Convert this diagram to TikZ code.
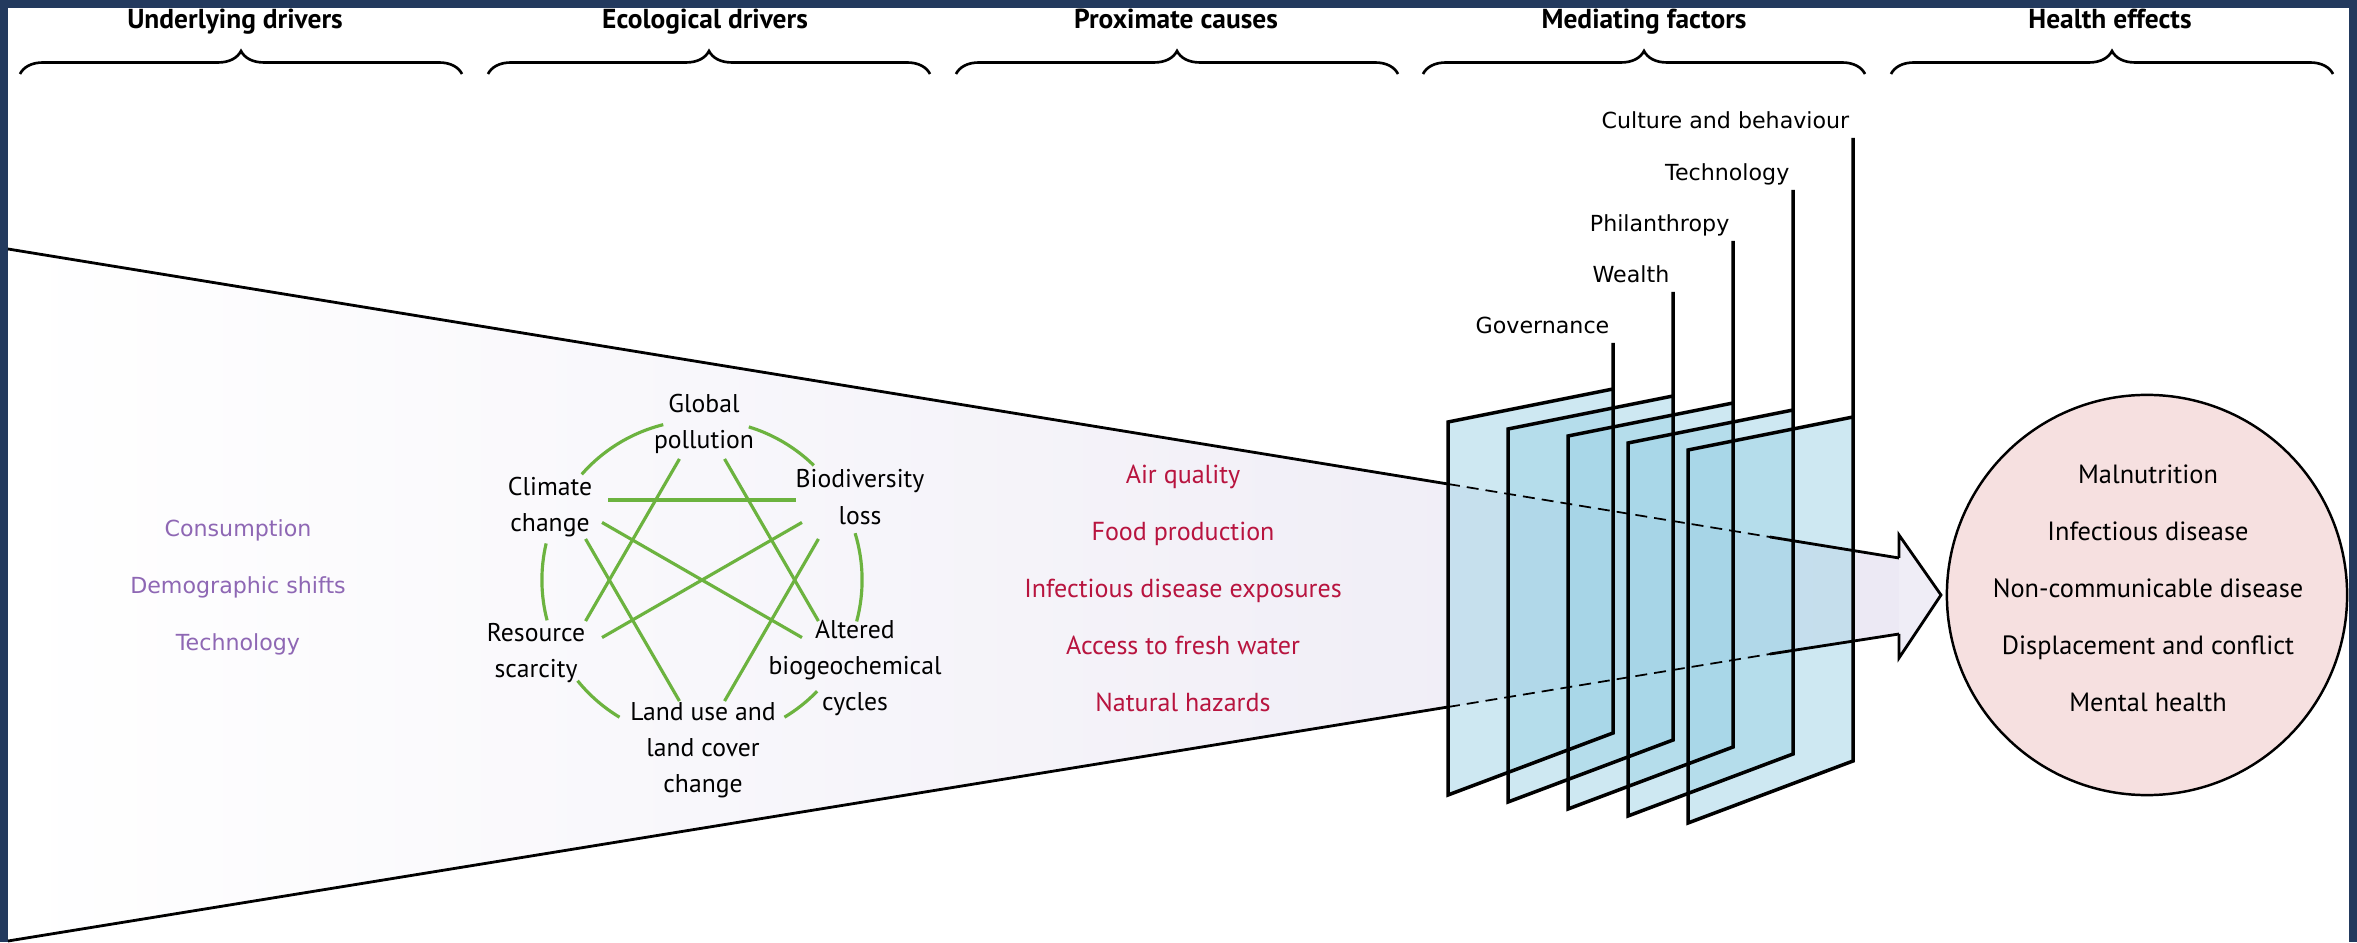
\documentclass[tikz,border=0pt]{standalone}
\usepackage{fontspec}
\setmainfont{PT Sans}
\newfontfamily\lucidafont{DejaVu Sans}
\usepackage{tikz}
\usetikzlibrary{positioning}
\usetikzlibrary{decorations.pathreplacing}
\definecolor{framenavy}{HTML}{233A5E}
\definecolor{ecogreen}{HTML}{6CB33F}
\definecolor{undpurple}{HTML}{8E67B4}
\definecolor{proxred}{HTML}{B8143F}
\definecolor{effpink}{HTML}{F6E0E0}
\definecolor{wedgelav}{HTML}{ECE9F4}
\definecolor{headlav}{HTML}{EFEDF6}
\definecolor{panelblue}{HTML}{9ED3E6}
\tikzset{
    colhead/.style={font=\bfseries\fontsize{7.8}{9}\selectfont, anchor=base, inner sep=0pt},
    colbrace/.style={decorate, decoration={brace, amplitude=0.23cm}, line width=0.75pt},
    undlabel/.style={font=\lucidafont\fontsize{6.3}{8}\selectfont, text=undpurple, text height=1.6mm, text depth=0.4mm, inner sep=0pt},
    ecolabel/.style={font=\fontsize{7.3}{10.3}\selectfont, align=center, inner sep=0pt},
    ecolink/.style={draw=ecogreen, line width=0.9pt},
    proxlabel/.style={font=\fontsize{7.4}{9}\selectfont, text=proxred, text height=1.8mm, text depth=0.5mm, inner sep=0pt},
    medlabel/.style={font=\lucidafont\fontsize{6.3}{8}\selectfont, anchor=base east, inner sep=0pt},
    medpanel/.style={fill=panelblue, fill opacity=0.5},
    medline/.style={line width=1pt, line join=miter},
    efflabel/.style={font=\fontsize{7.5}{9}\selectfont, text height=1.8mm, text depth=0.5mm, inner sep=0pt},
    wedgeline/.style={line width=0.8pt},
    wedgedash/.style={line width=0.5pt, dash pattern=on 3.4pt off 2pt}
}
\begin{document}
\begin{tikzpicture}[x=0.01cm, y=0.01cm, node distance=0.57cm, on grid]
    \useasboundingbox (0,0) rectangle (2357,942);
    \fill[white] (0,0) rectangle (2357,942);
    \fill[framenavy] (0,0) rectangle (8,942);
    \fill[framenavy] (0,934) rectangle (2357,942);
    \fill[framenavy] (2349,0) rectangle (2357,942);

    \node[colhead] (head und) at (235,913) {Underlying drivers};
    \node[colhead] (head eco) at (705,913) {Ecological drivers};
    \node[colhead] (head prox) at (1176,913) {Proximate causes};
    \node[colhead] (head med) at (1644,913) {Mediating factors};
    \node[colhead] (head eff) at (2110,913) {Health effects};
    \draw[colbrace] (20,868) -- (462,868);
    \draw[colbrace] (488,868) -- (930,868);
    \draw[colbrace] (956,868) -- (1398,868);
    \draw[colbrace] (1423,868) -- (1865,868);
    \draw[colbrace] (1891,868) -- (2333,868);

    \coordinate (wedge tl) at (8,693);
    \coordinate (wedge bl) at (8,1);
    \coordinate (wedge tp) at (1448,458);
    \coordinate (wedge bp) at (1448,235);
    \coordinate (wedge td) at (1770,405);
    \coordinate (wedge bd) at (1770,288);
    \coordinate (wedge tr) at (1899,384);
    \coordinate (wedge br) at (1899,308);
    \coordinate (arrow top) at (1899,407);
    \coordinate (arrow tip) at (1941,347);
    \coordinate (arrow bot) at (1899,284);
    \shade[left color=white, right color=wedgelav] (wedge tl) -- (wedge tr) -- (wedge br) -- (wedge bl) -- cycle;
    \filldraw[fill=headlav, wedgeline, line join=miter] (wedge tr) -- (arrow top) -- (arrow tip) -- (arrow bot) -- (wedge br);
    \draw[wedgeline] (wedge tl) -- (wedge tp);
    \draw[wedgeline] (wedge bl) -- (wedge bp);

    \fill[medpanel] (1448,147) -- (1448,520) -- (1613,553) -- (1613,209) -- cycle;
    \fill[medpanel] (1508,140) -- (1508,513) -- (1673,546) -- (1673,202) -- cycle;
    \fill[medpanel] (1568,133) -- (1568,506) -- (1733,539) -- (1733,195) -- cycle;
    \fill[medpanel] (1628,126) -- (1628,499) -- (1793,532) -- (1793,188) -- cycle;
    \fill[medpanel] (1688,119) -- (1688,492) -- (1853,525) -- (1853,181) -- cycle;
    \draw[medline] (1613,599) -- (1613,209) -- (1448,147) -- (1448,520) -- (1613,553);
    \draw[medline] (1673,650) -- (1673,202) -- (1508,140) -- (1508,513) -- (1673,546);
    \draw[medline] (1733,701) -- (1733,195) -- (1568,133) -- (1568,506) -- (1733,539);
    \draw[medline] (1793,752) -- (1793,188) -- (1628,126) -- (1628,499) -- (1793,532);
    \draw[medline] (1853,804) -- (1853,181) -- (1688,119) -- (1688,492) -- (1853,525);
    \node[medlabel] (med gov) at (1610,608) {Governance};
    \node[medlabel] (med wealth) at (1670,659) {Wealth};
    \node[medlabel] (med phil) at (1730,710) {Philanthropy};
    \node[medlabel] (med tech) at (1790,761) {Technology};
    \node[medlabel] (med culture) at (1850,813) {Culture and behaviour};

    \draw[wedgedash] (wedge tp) -- (wedge td);
    \draw[wedgedash] (wedge bp) -- (wedge bd);
    \draw[wedgeline] (wedge td) -- (wedge tr);
    \draw[wedgeline] (wedge bd) -- (wedge br);

    \node[undlabel] (und cons) at (238,412) {Consumption};
    \node[undlabel, below=of und cons] (und demo) {Demographic shifts};
    \node[undlabel, below=of und demo] (und tech) {Technology};

    \coordinate (eco centre) at (702,362);
    \coordinate (eco pg) at (702,522);
    \coordinate (eco pb) at (841,442);
    \coordinate (eco pa) at (841,282);
    \coordinate (eco pl) at (702,202);
    \coordinate (eco pr) at (563,282);
    \coordinate (eco pc) at (563,442);
    \draw[ecolink] ([shift={(104:1.6cm)}]eco centre) arc[start angle=104, end angle=138.7, radius=1.6cm];
    \draw[ecolink] ([shift={(45.7:1.6cm)}]eco centre) arc[start angle=45.7, end angle=73, radius=1.6cm];
    \draw[ecolink] ([shift={(-15:1.6cm)}]eco centre) arc[start angle=-15, end angle=17, radius=1.6cm];
    \draw[ecolink] ([shift={(-59:1.6cm)}]eco centre) arc[start angle=-59, end angle=-44, radius=1.6cm];
    \draw[ecolink] ([shift={(-141:1.6cm)}]eco centre) arc[start angle=-141, end angle=-121, radius=1.6cm];
    \draw[ecolink] ([shift={(166.8:1.6cm)}]eco centre) arc[start angle=166.8, end angle=194.6, radius=1.6cm];
    \draw[ecolink, shorten <=0.45cm, shorten >=0.45cm] (eco pc) -- (eco pb);
    \draw[ecolink, shorten <=0.45cm, shorten >=0.45cm] (eco pg) -- (eco pr);
    \draw[ecolink, shorten <=0.45cm, shorten >=0.45cm] (eco pg) -- (eco pa);
    \draw[ecolink, shorten <=0.45cm, shorten >=0.45cm] (eco pc) -- (eco pa);
    \draw[ecolink, shorten <=0.45cm, shorten >=0.45cm] (eco pb) -- (eco pr);
    \draw[ecolink, shorten <=0.45cm, shorten >=0.45cm] (eco pc) -- (eco pl);
    \draw[ecolink, shorten <=0.45cm, shorten >=0.45cm] (eco pb) -- (eco pl);
    \node[ecolabel] (eco global) at (704,518) {Global\\pollution};
    \node[ecolabel] (eco climate) at (550,435) {Climate\\change};
    \node[ecolabel] (eco bio) at (860,445) {Biodiversity\\loss};
    \node[ecolabel] (eco res) at (536,289) {Resource\\scarcity};
    \node[ecolabel] (eco cycles) at (855,274) {Altered\\biogeochemical\\cycles};
    \node[ecolabel] (eco land) at (703,192) {Land use and\\land cover\\change};

    \node[proxlabel] (prox air) at (1183,465) {Air quality};
    \node[proxlabel, below=of prox air] (prox food) {Food production};
    \node[proxlabel, below=of prox food] (prox inf) {Infectious disease exposures};
    \node[proxlabel, below=of prox inf] (prox water) {Access to fresh water};
    \node[proxlabel, below=of prox water] (prox haz) {Natural hazards};

    \node[draw, circle, minimum size=4cm, inner sep=0pt, fill=effpink, line width=0.7pt] (eff ring) at (2147,347) {};
    \node[efflabel] (eff mal) at (2148,465) {Malnutrition};
    \node[efflabel, below=of eff mal] (eff inf) {Infectious disease};
    \node[efflabel, below=of eff inf] (eff ncd) {Non-communicable disease};
    \node[efflabel, below=of eff ncd] (eff disp) {Displacement and conflict};
    \node[efflabel, below=of eff disp] (eff mental) {Mental health};
\end{tikzpicture}
\end{document}
